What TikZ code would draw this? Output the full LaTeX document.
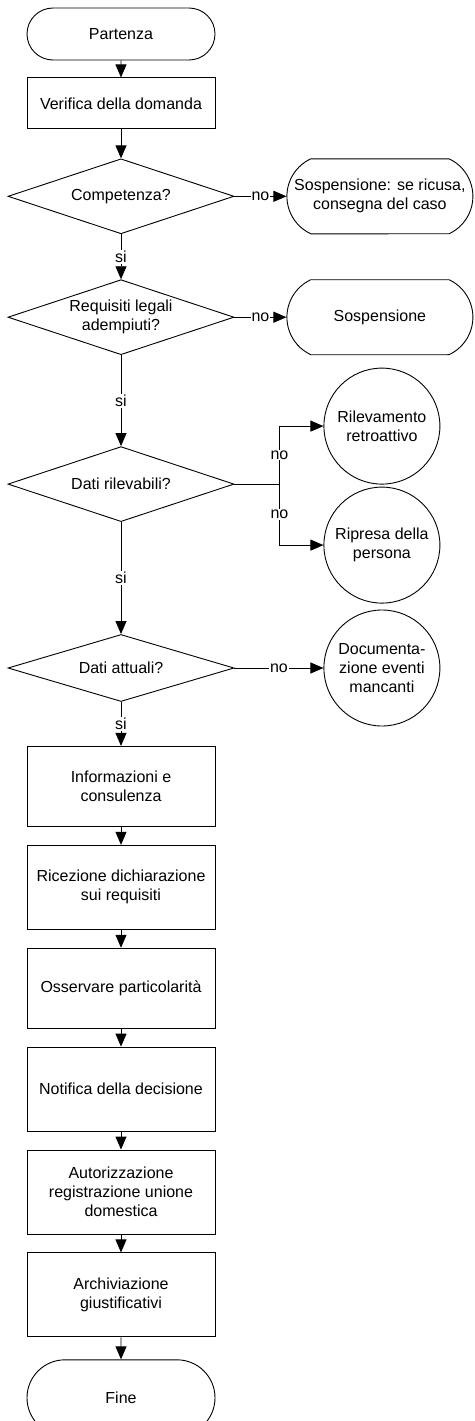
\documentclass[tikz,border=0pt]{standalone}
\usepackage{fontspec}
\setmainfont{Liberation Sans}
\usetikzlibrary{shapes,arrows.meta,positioning,calc}

\begin{document}
\begin{tikzpicture}[
    x=1pt, y=-1pt,
    node distance=18pt and 52pt,
    every node/.style={font=\fontsize{16}{19}\selectfont, align=center},
    terminal/.style={
        rounded rectangle, draw=black, line width=0.9pt,
        minimum width=188pt, minimum height=52pt, inner sep=0pt
    },
    process/.style={
        rectangle, draw=black, line width=0.9pt,
        minimum width=188pt, minimum height=82pt, inner sep=0pt
    },
    decision/.style={
        diamond, draw=black, line width=0.9pt, aspect=3,
        minimum width=226pt, minimum height=75pt, inner sep=0pt
    },
    halt/.style={
        rounded rectangle, rounded rectangle arc length=130,
        draw=black, line width=0.9pt,
        minimum width=186pt, minimum height=75pt, inner sep=0pt
    },
    outcome/.style={
        circle, draw=black, line width=0.9pt,
        minimum size=116pt, inner sep=0pt
    },
    lbl/.style={fill=white, inner sep=1pt},
    arrow/.style={-{Triangle[length=13pt,width=11pt]}, line width=0.9pt}
]
\useasboundingbox (0,0) rectangle (474,1421);

% Start
\node[terminal] (start) at (121,34) {Partenza};
\node[process, below=17pt of start, minimum height=51pt] (verifica) {Verifica della domanda};

% Decisions
\node[decision, below=29pt of verifica] (competenza) {Competenza?};
\node[halt, right=52pt of competenza] (sosp1)
    {\makebox[130pt]{\begin{tabular}{@{}c@{}}Sospensione: se ricusa,\\consegna del caso\end{tabular}}};

\node[decision, below=45pt of competenza] (requisiti) {Requisiti legali\\adempiuti?};
\node[halt, right=52pt of requisiti] (sosp2) {Sospensione};

\node[decision, below=91pt of requisiti] (rilevabili) {Dati rilevabili?};
\node[outcome, right=89pt of rilevabili, yshift=58pt] (retro) {Rilevamento\\retroattivo};
\node[outcome, right=89pt of rilevabili, yshift=-61pt] (ripresa) {Ripresa della\\persona};
\coordinate (fork) at ([xshift=45pt]rilevabili.east);

\node[decision, below=112pt of rilevabili, minimum height=67pt] (attuali) {Dati attuali?};
\node[outcome, right=89pt of attuali] (docu) {Documenta-\\zione eventi\\mancanti};

% Process steps
\node[process, below=44pt of attuali, minimum height=80pt] (info) {Informazioni e\\consulenza};
\node[process, below=of info, minimum height=84pt] (ricezione) {Ricezione dichiarazione\\sui requisiti};
\node[process, below=of ricezione, minimum height=80pt] (osservare) {Osservare particolarità};
\node[process, below=of osservare, minimum height=84pt] (notifica) {Notifica della decisione};
\node[process, below=of notifica, minimum height=84pt] (autoriz) {Autorizzazione\\registrazione unione\\domestica};
\node[process, below=of autoriz, minimum height=84pt] (archiv) {Archiviazione\\giustificativi};

% End
\node[terminal, below=22pt of archiv, minimum height=76pt] (fine) {Fine};

% Arrows
\draw[arrow] (start) -- (verifica);
\draw[arrow] (verifica) -- (competenza);

\draw[arrow] (competenza) -- node[lbl] {no} (sosp1);
\draw[arrow] (competenza) -- node[lbl] {si} (requisiti);

\draw[arrow] (requisiti) -- node[lbl] {no} (sosp2);
\draw[arrow] (requisiti) -- node[lbl] {si} (rilevabili);

\draw[line width=0.9pt] (rilevabili.east) -- (fork);
\draw[arrow] (fork) |- node[lbl, pos=0.25] {no} (retro);
\draw[arrow] (fork) |- node[lbl, pos=0.25] {no} (ripresa);
\draw[arrow] (rilevabili) -- node[lbl] {si} (attuali);

\draw[arrow] (attuali) -- node[lbl] {no} (docu);
\draw[arrow] (attuali) -- node[lbl] {si} (info);

\draw[arrow] (info) -- (ricezione);
\draw[arrow] (ricezione) -- (osservare);
\draw[arrow] (osservare) -- (notifica);
\draw[arrow] (notifica) -- (autoriz);
\draw[arrow] (autoriz) -- (archiv);
\draw[arrow] (archiv) -- (fine);

\end{tikzpicture}
\end{document}
